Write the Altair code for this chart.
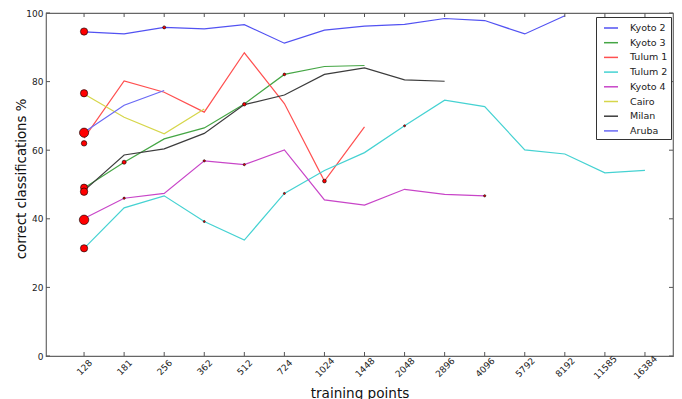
import altair as alt
import pandas as pd

# ---- data ----
x_labels = ["128", "181", "256", "362", "512", "724", "1024", "1448", "2048",
            "2896", "4096", "5792", "8192", "11585", "16384"]

series_names = ["Kyoto 2", "Kyoto 3", "Tulum 1", "Tulum 2", "Kyoto 4", "Cairo", "Milan", "Aruba"]
series_colors = ["#5252f2", "#45a645", "#ff5050", "#45d2d2", "#c845c8", "#d6d64a", "#3c3c3c", "#6a6af5"]

kyoto2 = [94.5, 93.9, 95.8, 95.4, 96.6, 91.2, 95.0, 96.2, 96.7, 98.4, 97.8, 93.9, 99.2]
kyoto3 = [49.0, 56.5, 63.3, 66.5, 73.5, 82.1, 84.4, 84.7]
tulum1 = [63.5, 80.2, 76.9, 71.1, 88.4, 73.6, 51.0, 66.8]
tulum2 = [31.4, 43.2, 46.7, 39.2, 33.8, 47.4, 54.1, 59.3, 67.1, 74.6, 72.7, 60.1, 58.9, 53.4, 54.1]
kyoto4 = [40.1, 46.0, 47.4, 56.9, 55.8, 60.1, 45.5, 44.0, 48.6, 47.1, 46.7]
cairo = [76.4, 69.6, 64.8, 72.0]
milan = [48.2, 58.6, 60.4, 64.9, 73.3, 76.1, 82.1, 84.0, 80.5, 80.1]
aruba = [65.2, 73.1, 77.4]

# red markers (x index, value, marker area)
dot_x = [0, 0, 0, 0, 0, 0, 0, 0, 2, 1, 4, 5, 6, 1, 3, 4, 10, 3, 5, 8]
dot_y = [94.6, 76.6, 65.1, 62.0, 49.1, 47.9, 39.7, 31.4,
         95.8, 56.5, 73.4, 82.1, 51.0, 46.0, 56.9, 55.8, 46.7, 39.2, 47.4, 67.1]
dot_s = [53, 53, 85, 30, 50, 55, 90, 53,
         9, 16, 12, 7, 14, 5, 5, 5, 5, 4, 4, 4]

y_ticks = [0, 20, 40, 60, 80, 100]

# ---- build tables ----
all_series = [kyoto2, kyoto3, tulum1, tulum2, kyoto4, cairo, milan, aruba]
rows = []
for name, vals in zip(series_names, all_series):
    for i, v in enumerate(vals):
        rows.append({"series": name, "x": i, "y": v})
lines_df = pd.DataFrame(rows)
dots_df = pd.DataFrame({"x": dot_x, "y": dot_y, "s": dot_s})
xt_df = pd.DataFrame({"x": list(range(len(x_labels)))})
yt_df = pd.DataFrame({"y": y_ticks})

W, H = 627, 343
FONT = "DejaVu Sans"

label_js = "[" + ",".join("'%s'" % l for l in x_labels) + "][datum.value]"

x_scale = alt.Scale(domain=[-0.95, 14.7], nice=False, zero=False)
y_scale = alt.Scale(domain=[0, 100], nice=False)

x_axis = alt.Axis(values=list(range(len(x_labels))), labelExpr=label_js, ticks=False, tickSize=0,
                  domain=False, grid=False, labelAngle=-45, labelAlign="center",
                  labelBaseline="middle", labelPadding=11, labelFlush=False, labelOverlap=False,
                  labelFont=FONT, labelFontSize=9, labelColor="#222",
                  title="training points", titleFont=FONT, titleFontSize=13.6,
                  titleFontWeight="normal", titleColor="#111", titleX=W / 2, titleY=41,
                  titleAlign="center", titleBaseline="alphabetic")
y_axis = alt.Axis(values=y_ticks, ticks=False, tickSize=0, domain=False, grid=False,
                  labelPadding=3, labelFlush=False, labelOverlap=False,
                  labelFont=FONT, labelFontSize=9, labelColor="#222",
                  title="correct classifications %", titleFont=FONT, titleFontSize=13.3,
                  titleFontWeight="normal", titleColor="#111", titleX=-25, titleY=165.5,
                  titleAlign="center", titleBaseline="middle", titleAngle=-90)

lines = alt.Chart(lines_df).mark_line(strokeWidth=1.2).encode(
    x=alt.X("x:Q", scale=x_scale, axis=x_axis),
    y=alt.Y("y:Q", scale=y_scale, axis=y_axis),
    color=alt.Color("series:N",
                    scale=alt.Scale(domain=series_names, range=series_colors),
                    legend=alt.Legend(title=None, orient="none", legendX=550, legendY=4,
                                      padding=3, symbolOffset=4, symbolType="stroke",
                                      symbolSize=196, symbolStrokeWidth=1.5, rowPadding=1.7,
                                      labelOffset=11, labelFont=FONT, labelFontSize=9.5,
                                      labelColor="#222", strokeColor="#333", fillColor="white",
                                      cornerRadius=0)),
    detail="series:N",
    order=alt.Order("x:Q"),
)

dots = alt.Chart(dots_df).mark_point(filled=True, fill="#ff0000", stroke="#000",
                                     strokeWidth=0.6, opacity=1, shape="circle").encode(
    x=alt.X("x:Q", scale=x_scale),
    y=alt.Y("y:Q", scale=y_scale),
    size=alt.Size("s:Q", scale=None, legend=None),
)

tick_color = "#555"
xt_top = alt.Chart(xt_df).mark_rule(color=tick_color, strokeWidth=1).encode(
    x=alt.X("x:Q", scale=x_scale), y=alt.value(0), y2=alt.value(4))
xt_bot = alt.Chart(xt_df).mark_rule(color=tick_color, strokeWidth=1).encode(
    x=alt.X("x:Q", scale=x_scale), y=alt.value(H), y2=alt.value(H - 4))
yt_left = alt.Chart(yt_df).mark_rule(color=tick_color, strokeWidth=1).encode(
    y=alt.Y("y:Q", scale=y_scale), x=alt.value(0), x2=alt.value(4))
yt_right = alt.Chart(yt_df).mark_rule(color=tick_color, strokeWidth=1).encode(
    y=alt.Y("y:Q", scale=y_scale), x=alt.value(W), x2=alt.value(W - 4))

chart = alt.layer(lines, dots, xt_top, xt_bot, yt_left, yt_right).properties(
    width=W, height=H,
    autosize=alt.AutoSizeParams(type="none"),
    padding={"left": 38, "top": 5, "right": 1, "bottom": 43},
    background="white",
).configure_view(stroke="#666", strokeWidth=1.2)

chart.save("out.html", embed_options={"renderer": "svg", "actions": False})
